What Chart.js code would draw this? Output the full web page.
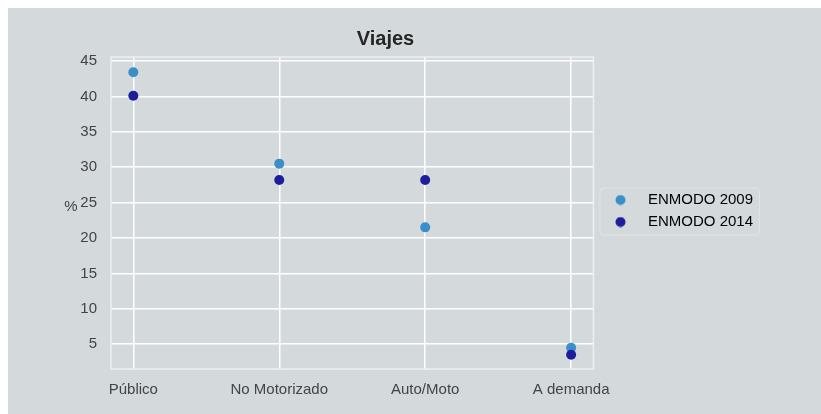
<!DOCTYPE html>
<html>
<head>
<meta charset="utf-8">
<title>Viajes</title>
<script src="https://cdn.jsdelivr.net/npm/chart.js@4/dist/chart.umd.min.js"></script>
<style>
  body { margin: 8px 0 0 8px; background: #fff; overflow: hidden; }
  #myChart { display: block; background: #d4d9dc; }
</style>
</head>
<body>
<canvas id="myChart" width="813" height="406"></canvas>

<script type="text/javascript">
// categorias y valores (%)
const CATEGORIES = ['Público', 'No Motorizado', 'Auto/Moto', 'A demanda'];
const ENMODO_2009 = [43.4, 30.5, 21.5, 4.5];
const ENMODO_2014 = [40.1, 28.2, 28.2, 3.5];
const Y_TICKS = [5, 10, 15, 20, 25, 30, 35, 40, 45];

const COLOR_2009 = '#3a8fc9';
const COLOR_2014 = '#1e1e9c';

function toPoints(values) {
  return values.map((v, i) => ({x: i, y: v}));
}

// circulo para el legend (canvas como pointStyle)
function dot(color) {
  const c = document.createElement('canvas');
  c.width = 11; c.height = 11;
  const g = c.getContext('2d');
  g.fillStyle = color;
  g.beginPath();
  g.arc(5.5, 5.5, 5, 0, Math.PI * 2);
  g.fill();
  return c;
}

Chart.defaults.font.family = '"Liberation Sans", Arial, sans-serif';
Chart.defaults.font.size = 15;
Chart.defaults.color = '#444';

// marco del grafico, marco del legend y etiqueta "%"
const decoPlugin = {
  id: 'deco',
  beforeDraw(chart) {
    const ctx = chart.ctx;
    const hb = chart.legend.legendHitBoxes;
    if (hb && hb.length) {
      const l = hb[0].left - 1;
      const t = hb[0].top - 5;
      const last = hb[hb.length - 1];
      const r = Math.max(...hb.map(h => h.left + h.width)) + 6;
      const b = last.top + last.height + 5;
      ctx.save();
      ctx.beginPath();
      ctx.roundRect(l + 0.5, t + 0.5, r - l, b - t, 4);
      ctx.strokeStyle = '#e1e4e6';
      ctx.lineWidth = 1;
      ctx.stroke();
      ctx.restore();
    }
  },
  afterDraw(chart) {
    const ctx = chart.ctx;
    const a = chart.chartArea;
    ctx.save();
    ctx.strokeStyle = '#eef0f1';
    ctx.lineWidth = 1.5;
    ctx.strokeRect(a.left, a.top, a.right - a.left, a.bottom - a.top);
    ctx.fillStyle = '#444';
    ctx.font = '15px "Liberation Sans", Arial, sans-serif';
    ctx.textAlign = 'center';
    ctx.textBaseline = 'bottom';
    ctx.fillText('%', a.left - 40, (a.top + a.bottom) / 2 + 1);
    ctx.restore();
  }
};

const config = {
  type: 'scatter',
  data: {
    datasets: [
      {
        label: 'ENMODO 2009',
        data: toPoints(ENMODO_2009),
        backgroundColor: COLOR_2009,
        borderColor: COLOR_2009,
        pointRadius: 5,
        pointHoverRadius: 5,
        borderWidth: 0,
        order: 1
      },
      {
        label: 'ENMODO 2014',
        data: toPoints(ENMODO_2014),
        backgroundColor: COLOR_2014,
        borderColor: COLOR_2014,
        pointRadius: 5,
        pointHoverRadius: 5,
        borderWidth: 0,
        order: 0
      }
    ]
  },
  options: {
    responsive: false,
    animation: false,
    layout: { padding: { right: 58 } },
    plugins: {
      title: {
        display: true,
        text: 'Viajes',
        color: '#262626',
        font: { size: 20, weight: 'bold' },
        padding: { top: 19, bottom: 6 }
      },
      legend: {
        position: 'right',
        labels: {
          usePointStyle: true,
          pointStyleWidth: 40,
          boxHeight: 15,
          padding: 7,
          color: '#333',
          generateLabels(chart) {
            return chart.data.datasets.map((ds, i) => ({
              text: ds.label,
              fillStyle: ds.backgroundColor,
              strokeStyle: ds.backgroundColor,
              lineWidth: 0,
              pointStyle: dot(ds.backgroundColor),
              hidden: !chart.isDatasetVisible(i),
              datasetIndex: i
            }));
          }
        }
      },
      tooltip: { enabled: false }
    },
    scales: {
      x: {
        type: 'linear',
        min: -0.153,
        max: 3.153,
        afterBuildTicks(scale) {
          scale.ticks = CATEGORIES.map((c, i) => ({value: i}));
        },
        afterFit(scale) { scale.height = 45; },
        ticks: {
          padding: 12,
          autoSkip: false,
          maxRotation: 0,
          callback: (v) => CATEGORIES[v]
        },
        grid: { color: '#ffffff', lineWidth: 1.5, drawTicks: false },
        border: { display: false }
      },
      y: {
        min: 1.5,
        max: 45.56,
        afterBuildTicks(scale) {
          scale.ticks = Y_TICKS.map(v => ({value: v}));
        },
        afterFit(scale) { scale.width = 103; },
        ticks: { padding: 14 },
        grid: { color: '#ffffff', lineWidth: 1.5, drawTicks: false },
        border: { display: false }
      }
    }
  },
  plugins: [decoPlugin]
};

const ctx = document.getElementById('myChart');
const myChart = new Chart(ctx, config);
</script>
</body>
</html>
